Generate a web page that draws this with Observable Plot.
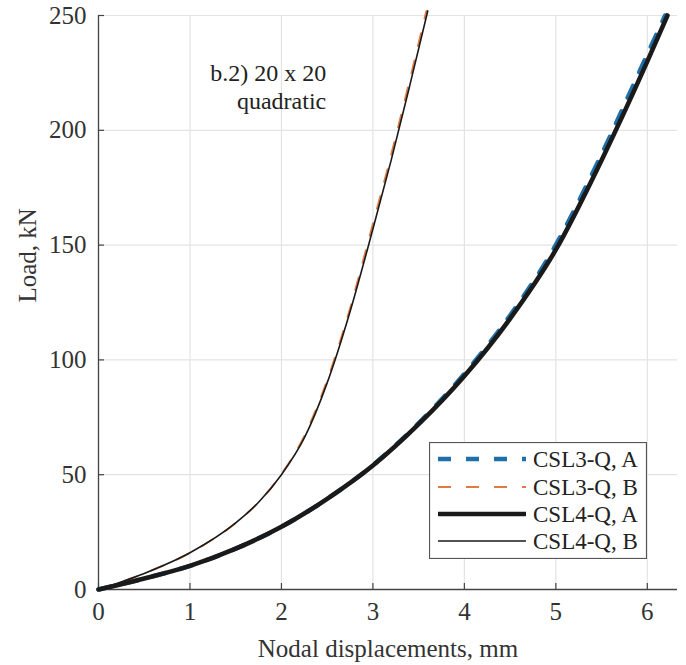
<!DOCTYPE html>
<html>
<head>
<meta charset="utf-8">
<script src="https://cdn.jsdelivr.net/npm/d3@7"></script>
<script src="https://cdn.jsdelivr.net/npm/@observablehq/plot@0.6"></script>
<style>
  html, body { margin: 0; padding: 0; background: #fff; }
  #wrap { position: relative; width: 686px; height: 665px; font-family: "Liberation Serif", "Times New Roman", serif; }
</style>
</head>
<body>
<div id="wrap"></div>
<script>
// ---- data ----
const xTicks = [0, 1, 2, 3, 4, 5, 6];
const yTicks = [0, 50, 100, 150, 200, 250];

// CSL3-Q, A (blue dashed, thick)
const csl3ADisp = [0, 0.5, 1, 1.5, 2, 2.5, 2.995, 3.49, 3.98, 4.475, 4.97, 5.47, 5.965, 6.195];
const csl3ALoad = [0, 4.8, 10.3, 17.8, 27.3, 39.5, 54, 72, 93, 118, 148, 187, 230, 250];
// CSL3-Q, B (orange dashed, thin)
const csl3BDisp = [0, 0.5, 1, 1.5, 1.75, 1.995, 2.24, 2.49, 2.74, 2.985, 3.185, 3.385, 3.585];
const csl3BLoad = [0, 7, 16, 29, 38, 50, 66, 90, 121, 157, 187, 219, 252];
// CSL4-Q, A (black, thick)
const csl4ADisp = [0, 0.5, 1, 1.5, 2, 2.5, 3, 3.5, 4, 4.5, 5, 5.5, 6, 6.22];
const csl4ALoad = [0, 4.8, 10.3, 17.8, 27.3, 39.5, 54, 72, 93, 118, 148, 187, 230, 250];
// CSL4-Q, B (black, thin)
const csl4BDisp = [0, 0.5, 1, 1.5, 1.75, 2, 2.25, 2.5, 2.75, 3, 3.2, 3.4, 3.6];
const csl4BLoad = [0, 7, 16, 29, 38, 50, 66, 90, 121, 157, 187, 219, 252];

const seriesNames = ["CSL3-Q, A", "CSL3-Q, B", "CSL4-Q, A", "CSL4-Q, B"];
const annotation = "b.2) 20 x 20\nquadratic";
const xLabel = "Nodal displacements, mm";
const yLabel = "Load, kN";

// ---- styles ----
const styles = [
  {stroke: "#1f6fa8", strokeWidth: 4.5, dash: "13 15"},
  {stroke: "#e07b45", strokeWidth: 2, dash: "13 15"},
  {stroke: "#1a1a1a", strokeWidth: 4.6, dash: null},
  {stroke: "#1a1a1a", strokeWidth: 1.6, dash: null}
];
const FONT = "Liberation Serif";
const AX = "#444";

function toRows(xs, ys) { return xs.map((x, i) => ({x, y: ys[i]})); }
const series = [
  toRows(csl3ADisp, csl3ALoad),
  toRows(csl3BDisp, csl3BLoad),
  toRows(csl4ADisp, csl4ALoad),
  toRows(csl4BDisp, csl4BLoad)
];

const W = 686, H = 665;
const mT = 15, mB = 76, mL = 98, mR = 9;
const frameH = H - mT - mB, frameW = W - mL - mR;

const lineMarks = series.map((d, i) => Plot.line(d, {
  x: "x", y: "y", curve: "monotone-x",
  stroke: styles[i].stroke, strokeWidth: styles[i].strokeWidth,
  strokeDasharray: styles[i].dash || undefined
}));

const chart = Plot.plot({
  width: W, height: H,
  marginTop: mT, marginBottom: mB, marginLeft: mL, marginRight: mR,
  style: {fontFamily: FONT, fontSize: "25px", color: "#333", background: "white"},
  x: {domain: [0, 6.33], ticks: xTicks},
  y: {domain: [0, 250], ticks: yTicks},
  marks: [
    Plot.gridX(xTicks, {stroke: "#e3e3e3", strokeOpacity: 1, strokeWidth: 1.2}),
    Plot.gridY(yTicks, {stroke: "#e3e3e3", strokeOpacity: 1, strokeWidth: 1.2}),
    Plot.axisX(xTicks, {tickSize: 0, tickPadding: 13, label: null, fill: "#333", fontSize: 25}),
    Plot.axisY(yTicks, {tickSize: 0, tickPadding: 12, label: null, fill: "#333", fontSize: 25}),
    // inward ticks
    Plot.ruleX(xTicks, {x: d => d, insetTop: frameH - 6, stroke: AX, strokeWidth: 1.2}),
    Plot.ruleY(yTicks, {y: d => d, insetRight: frameW - 6, stroke: AX, strokeWidth: 1.2}),
    // axis lines
    Plot.ruleX([0], {stroke: AX, strokeWidth: 1.3}),
    Plot.ruleY([0], {stroke: AX, strokeWidth: 1.3}),
    ...lineMarks,
    Plot.text([annotation], {x: 2.49, y: 219.4, textAnchor: "end", lineAnchor: "middle", lineHeight: 1.17, fontSize: 24, fill: "#222"}),
    Plot.text([xLabel], {frameAnchor: "bottom", dy: 59, lineAnchor: "middle", fontSize: 25, fill: "#333"}),
    Plot.text([yLabel], {frameAnchor: "left", dx: -71, rotate: -90, lineAnchor: "middle", fontSize: 25, fill: "#333"})
  ]
});

const wrap = document.getElementById("wrap");
wrap.appendChild(chart);

// ---- legend (inside plot area) ----
const lw = 218, lh = 117;
const legend = d3.create("svg").attr("width", lw).attr("height", lh)
  .style("position", "absolute").style("left", "429px").style("top", "442px");
legend.append("rect").attr("x", 0.5).attr("y", 0.5).attr("width", lw - 1).attr("height", lh - 1)
  .attr("fill", "white").attr("stroke", "#555").attr("stroke-width", 1.2);
const rowY = [17, 45, 72, 99];
seriesNames.forEach((name, i) => {
  const s = styles[i];
  const ln = legend.append("line").attr("x1", 9).attr("x2", 97).attr("y1", rowY[i]).attr("y2", rowY[i])
    .attr("stroke", s.stroke).attr("stroke-width", s.strokeWidth);
  if (s.dash) ln.attr("stroke-dasharray", s.dash);
  legend.append("text").attr("x", 104).attr("y", rowY[i]).attr("dy", "0.34em")
    .attr("font-family", FONT).attr("font-size", 23).attr("fill", "#222").text(name);
});
wrap.appendChild(legend.node());
</script>
</body>
</html>
